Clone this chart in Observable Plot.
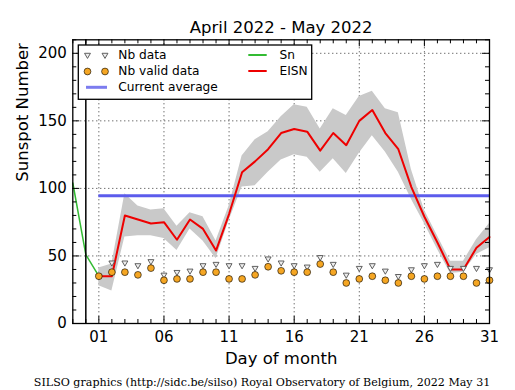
<!DOCTYPE html>
<html>
<head>
<meta charset="utf-8">
<script src="https://cdn.jsdelivr.net/npm/d3@7"></script>
<script src="https://cdn.jsdelivr.net/npm/@observablehq/plot@0.6"></script>
<style>
  html, body { margin: 0; padding: 0; background: #fff; }
  #wrap { position: relative; width: 515px; height: 390px; overflow: hidden; }
  #legend { position: absolute; left: 0; top: 0; pointer-events: none; }
</style>
</head>
<body>
<div id="wrap"></div>
<script>
// ---------- data ----------
const titleText = "April 2022 - May 2022";
const xLabel = "Day of month";
const yLabel = "Sunspot Number";
const captionText = "SILSO graphics (http://sidc.be/silso) Royal Observatory of Belgium, 2022 May 31";

const days = [1,2,3,4,5,6,7,8,9,10,11,12,13,14,15,16,17,18,19,20,21,22,23,24,25,26,27,28,29,30,31];
const eisn  = [35,35,80,77,74,75,62,77,70,54,81,112,120,129,141,144,142,128,141,132,150,158,141,129,101,79,60,40,40,56,64];
const upper = [41,44,96,87,84,85,72,82,79,61,87,124,136,142,153,162,160,144,159,154,168,172,159,156,114,84,65,46,46,62,74];
const lower = [28,24,64,65,65,63,54,70,61,48,76,101,102,112,121,125,123,112,122,111,126,139,127,112,92,74,55,37,38,51,56];
const nbData  = [35,45,45,43,46,36,38,39,43,44,43,43,41,48,45,43,42,49,44,36,41,43,39,35,40,43,44,41,41,41,40];
const nbValid = [35,38,38,36,41,32,33,33,38,38,33,33,36,42,39,38,38,44,38,30,33,35,32,30,35,33,35,35,35,30,32];

const snDays = [-1, 0, 1];
const snValues = [104, 51, 35];

const currentAverage = 94.5;

const xTicks = [1, 6, 11, 16, 21, 26, 31];
const xTickLabels = ["01", "06", "11", "16", "21", "26", "31"];
const yTicks = [0, 50, 100, 150, 200];
const xMinor = d3.range(-1, 32).filter(d => !xTicks.includes(d));
const yMinor = d3.range(0, 211, 10).filter(d => !yTicks.includes(d));

const legendLeft = [
  {label: "Nb data", kind: "triangle"},
  {label: "Nb valid data", kind: "circle"},
  {label: "Current average", kind: "avg"}
];
const legendRight = [
  {label: "Sn", kind: "sn"},
  {label: "EISN", kind: "eisn"}
];

// ---------- tables ----------
const table = days.map((d, i) => ({day: d, eisn: eisn[i], lo: lower[i], hi: upper[i], nb: nbData[i], valid: nbValid[i]}));
const snTable = snDays.map((d, i) => ({day: d, v: snValues[i]}));

// ---------- styling ----------
const W = 515, H = 390;
const mL = 72.3, mR = 26, mT = 39.3, mB = 67;
const fw = W - mL - mR, fh = H - mT - mB;
const C = {
  band: "#c9c9c9", eisn: "#ee0000", sn: "#33bb33", avg: "#5c5cec",
  valid: "#f5a623", tri: "#505050"
};
const font = "DejaVu Sans, sans-serif";

const chart = Plot.plot({
  width: W, height: H,
  marginLeft: mL, marginRight: mR, marginTop: mT, marginBottom: mB,
  style: {fontFamily: font, background: "white", color: "black", overflow: "visible"},
  x: {type: "linear", domain: [-1, 31]},
  y: {type: "linear", domain: [0, 210]},
  marks: [
    // dotted grid
    Plot.ruleX(xTicks, {stroke: "black", strokeWidth: 0.8, strokeDasharray: "1,3"}),
    Plot.ruleY(yTicks, {stroke: "black", strokeWidth: 0.8, strokeDasharray: "1,3"}),
    // uncertainty band
    Plot.areaY(table, {x: "day", y1: "lo", y2: "hi", fill: C.band}),
    // current average
    Plot.ruleY([currentAverage], {x1: days[0], x2: days[days.length - 1], stroke: C.avg, strokeWidth: 3}),
    // Sn
    Plot.line(snTable, {x: "day", y: "v", stroke: C.sn, strokeWidth: 1.5}),
    // EISN
    Plot.line(table, {x: "day", y: "eisn", stroke: C.eisn, strokeWidth: 2}),
    // month boundary
    Plot.ruleX([0], {stroke: "black", strokeWidth: 1.5}),
    // markers
    Plot.dot(table, {x: "day", y: "nb", symbol: "triangle", rotate: 180, r: 2.2, fill: "#eeeeee", stroke: C.tri, strokeWidth: 0.9}),
    Plot.dot(table, {x: "day", y: "valid", r: 3.4, fill: C.valid, stroke: "black", strokeWidth: 0.6}),
    // inward ticks
    Plot.tickX(xMinor, {x: d => d, insetTop: fh - 4, stroke: "black"}),
    Plot.tickX(xMinor, {x: d => d, insetBottom: fh - 4, stroke: "black"}),
    Plot.tickX(xTicks, {x: d => d, insetTop: fh - 7, stroke: "black"}),
    Plot.tickX(xTicks, {x: d => d, insetBottom: fh - 7, stroke: "black"}),
    Plot.tickY(yMinor, {y: d => d, insetRight: fw - 4, stroke: "black"}),
    Plot.tickY(yMinor, {y: d => d, insetLeft: fw - 4, stroke: "black"}),
    Plot.tickY(yTicks, {y: d => d, insetRight: fw - 7, stroke: "black"}),
    Plot.tickY(yTicks, {y: d => d, insetLeft: fw - 7, stroke: "black"}),
    Plot.frame({stroke: "black", strokeWidth: 1.3}),
    // axes
    Plot.axisX({ticks: xTicks, tickFormat: d => xTickLabels[xTicks.indexOf(d)], tickSize: 0, tickPadding: 7.5, fontSize: 15, label: null}),
    Plot.axisY({ticks: yTicks, tickSize: 0, tickPadding: 6, fontSize: 15, label: null}),
    // texts
    Plot.text([titleText], {text: d => d, frameAnchor: "top", dy: -12, fontSize: 16.5, lineAnchor: "middle"}),
    Plot.text([xLabel], {text: d => d, frameAnchor: "bottom", dy: 35, fontSize: 16.5, lineAnchor: "middle"}),
    Plot.text([yLabel], {text: d => d, frameAnchor: "left", dx: -50, rotate: -90, fontSize: 16.5, lineAnchor: "middle"}),
    Plot.text([captionText], {text: d => d, frameAnchor: "bottom-left", dx: 33.3 - mL, dy: 58.6, textAnchor: "start",
      fontFamily: "DejaVu Serif, serif", fontSize: 11.1, lineAnchor: "middle"})
  ]
});

const wrap = document.getElementById("wrap");
wrap.appendChild(chart);

// ---------- legend overlay ----------
const svg = d3.select(wrap).append("svg")
  .attr("id", "legend").attr("width", W).attr("height", H)
  .style("font-family", font).style("font-size", "12.2px");

const box = {x: 78.3, y: 45, w: 233.4, h: 54.3};
svg.append("rect").attr("x", box.x).attr("y", box.y).attr("width", box.w).attr("height", box.h)
  .attr("fill", "white").attr("stroke", "black").attr("stroke-width", 1.3);

const rowY = [55, 71, 86.5];
const triPath = d3.symbol(d3.symbolTriangle, Math.PI * 2.2 * 2.2)();
legendLeft.forEach((it, i) => {
  const y = rowY[i];
  if (it.kind === "triangle") {
    [87.5, 105].forEach(x => svg.append("path").attr("d", triPath)
      .attr("transform", `translate(${x},${y}) rotate(180)`)
      .attr("fill", "#eeeeee").attr("stroke", C.tri).attr("stroke-width", 0.9));
  } else if (it.kind === "circle") {
    [87.5, 105].forEach(x => svg.append("circle").attr("cx", x).attr("cy", y + 0.5).attr("r", 3.4)
      .attr("fill", C.valid).attr("stroke", "black").attr("stroke-width", 0.6));
  } else {
    svg.append("line").attr("x1", 86).attr("x2", 107).attr("y1", y + 0.8).attr("y2", y + 0.8)
      .attr("stroke", C.avg).attr("stroke-width", 3).attr("opacity", 0.8);
  }
  svg.append("text").attr("x", 118.3).attr("y", y).attr("dy", "0.36em").text(it.label);
});
legendRight.forEach((it, i) => {
  const y = rowY[i];
  svg.append("line").attr("x1", 248.3).attr("x2", 266.7).attr("y1", y).attr("y2", y)
    .attr("stroke", it.kind === "sn" ? C.sn : C.eisn).attr("stroke-width", 2);
  svg.append("text").attr("x", 279.5).attr("y", y).attr("dy", "0.36em").text(it.label);
});
</script>
</body>
</html>
